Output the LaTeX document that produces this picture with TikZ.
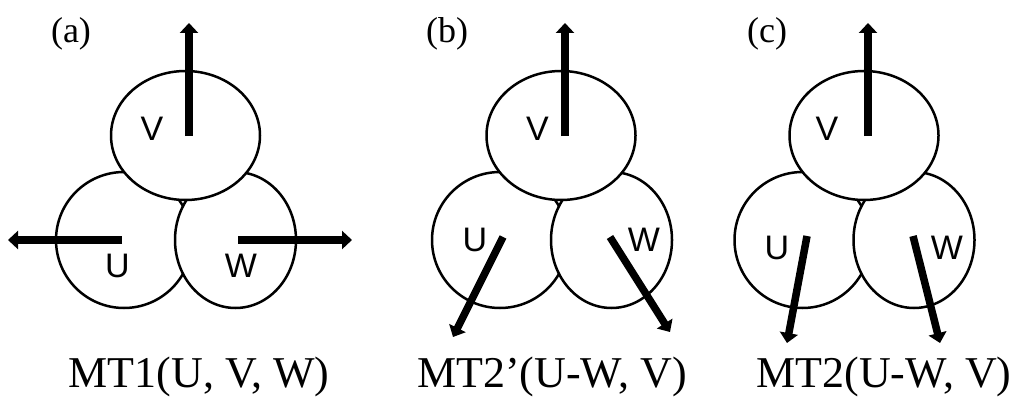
\documentclass[tikz,border=0pt]{standalone}
\usepackage{fontspec}
\setmainfont{Liberation Serif}
\newfontfamily\lsans{Liberation Sans}
\usetikzlibrary{arrows.meta,shapes.geometric}
\begin{document}
\begin{tikzpicture}[x=1pt,y=-1pt,
  lobe/.style={draw,shape=ellipse,line width=2.5pt,fill=white,inner sep=0pt},
  phase/.style={font=\lsans\fontsize{34}{38}\selectfont,inner sep=0pt},
  tag/.style={font=\fontsize{36}{40}\selectfont,inner sep=0pt},
  caption/.style={font=\fontsize{44}{50}\selectfont,inner sep=0pt,anchor=base},
  vec/.style={line width=7.5pt,-{Triangle[width=18pt,length=10pt]}}]
\useasboundingbox (0,0) rectangle (1016,401);
% ---------- panel (a)
\node[lobe,minimum width=136pt,minimum height=136pt] (aU) at (124,240) {};
\node[lobe,minimum width=121pt,minimum height=136pt] (aW) at (235.5,240) {};
\node[lobe,minimum width=149pt,minimum height=129pt] (aV) at (185.5,135.5) {};
\coordinate (aVs) at (189,136); \coordinate (aVe) at (189,23);
\coordinate (aUs) at (122,240); \coordinate (aUe) at (8,240);
\coordinate (aWs) at (238,240); \coordinate (aWe) at (352,240);
\draw[vec] (aVs) -- (aVe);
\draw[vec] (aUs) -- (aUe);
\draw[vec] (aWs) -- (aWe);
\node[phase] (aVl) at (152,128.5) {V};
\node[phase] (aUl) at (117.5,266) {U};
\node[phase] (aWl) at (241,266) {W};
\node[tag] (aT) at (71,34) {(a)};
\node[caption] (aC) at (199,387) {MT1(U, V, W)};
% ---------- panel (b)
\node[lobe,minimum width=136pt,minimum height=136pt] (bU) at (500,240) {};
\node[lobe,minimum width=121pt,minimum height=136pt] (bW) at (611.5,240) {};
\node[lobe,minimum width=149pt,minimum height=129pt] (bV) at (561,135.5) {};
\coordinate (bVs) at (565,136); \coordinate (bVe) at (565,23);
\coordinate (bUs) at (503,237); \coordinate (bUe) at (453,337);
\coordinate (bWs) at (610,237); \coordinate (bWe) at (670,332);
\draw[vec] (bVs) -- (bVe);
\draw[vec] (bUs) -- (bUe);
\draw[vec] (bWs) -- (bWe);
\node[phase] (bVl) at (537.5,128.5) {V};
\node[phase] (bUl) at (475,239.5) {U};
\node[phase] (bWl) at (644,239.5) {W};
\node[tag] (bT) at (447,34) {(b)};
\node[caption] (bC) at (552,387) {MT2’(U-W, V)};
% ---------- panel (c)
\node[lobe,minimum width=136pt,minimum height=136pt] (cU) at (802.5,240) {};
\node[lobe,minimum width=121pt,minimum height=136pt] (cW) at (914,240) {};
\node[lobe,minimum width=149pt,minimum height=129pt] (cV) at (864,135.5) {};
\coordinate (cVs) at (868,136); \coordinate (cVe) at (868,23);
\coordinate (cUs) at (807,236); \coordinate (cUe) at (787,343);
\coordinate (cWs) at (913,236); \coordinate (cWe) at (940,343);
\draw[vec] (cVs) -- (cVe);
\draw[vec] (cUs) -- (cUe);
\draw[vec] (cWs) -- (cWe);
\node[phase] (cVl) at (827,128.5) {V};
\node[phase] (cUl) at (777,248) {U};
\node[phase] (cWl) at (947,248) {W};
\node[tag] (cT) at (767,34) {(c)};
\node[caption] (cC) at (884,387) {MT2(U-W, V)};
\end{tikzpicture}
\end{document}
